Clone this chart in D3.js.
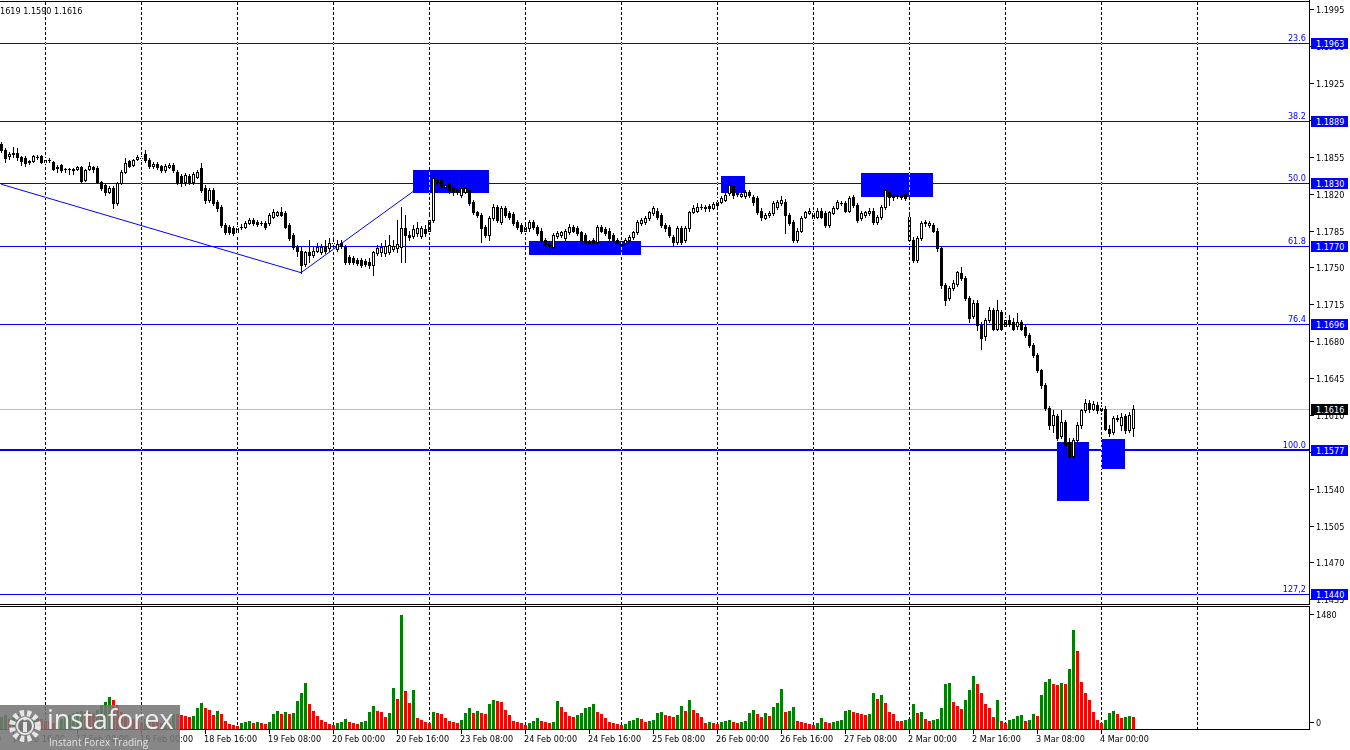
<!DOCTYPE html>
<html>
<head>
<meta charset="utf-8">
<script src="https://cdn.jsdelivr.net/npm/d3@7"></script>
<style>
  body { margin: 0; background: #fff; overflow: hidden; }
  svg text { font-family: "DejaVu Sans Condensed", "Liberation Sans", sans-serif; font-size: 9px; }
</style>
</head>
<body>
<div id="chart"></div>
<script>
// ---- EURUSD H1, 16 Feb 13:00 .. 4 Mar 08:00 ----
const opens = [
  1.1867,1.1861,1.1856,1.1858,1.1859,1.1855,1.1854,1.1850,1.1851,1.1855,1.1856,1.1850,
  1.1852,1.1850,1.1844,1.1847,1.1843,1.1843,1.1843,1.1843,1.1845,1.1833,1.1843,1.1845,
  1.1844,1.1831,1.1828,1.1822,1.1825,1.1811,1.1830,1.1841,1.1851,1.1847,1.1853,1.1854,
  1.1858,1.1852,1.1846,1.1848,1.1846,1.1842,1.1845,1.1847,1.1841,1.1837,1.1831,1.1837,
  1.1831,1.1836,1.1844,1.1825,1.1814,1.1823,1.1812,1.1807,1.1790,1.1788,1.1787,1.1784,
  1.1788,1.1788,1.1792,1.1795,1.1793,1.1792,1.1792,1.1792,1.1798,1.1800,1.1803,1.1802,
  1.1790,1.1781,1.1769,1.1766,1.1753,1.1765,1.1762,1.1766,1.1765,1.1770,1.1768,1.1773,
  1.1767,1.1773,1.1769,1.1760,1.1759,1.1757,1.1757,1.1756,1.1755,1.1752,1.1764,1.1765,
  1.1764,1.1765,1.1767,1.1768,1.1769,1.1787,1.1781,1.1780,1.1783,1.1780,1.1786,1.1785,
  1.1795,1.1833,1.1833,1.1826,1.1829,1.1825,1.1824,1.1819,1.1822,1.1823,1.1812,1.1803,
  1.1800,1.1788,1.1781,1.1797,1.1807,1.1793,1.1806,1.1802,1.1801,1.1793,1.1790,1.1785,
  1.1787,1.1793,1.1788,1.1785,1.1776,1.1773,1.1769,1.1780,1.1781,1.1778,1.1784,1.1788,
  1.1787,1.1784,1.1781,1.1773,1.1776,1.1774,1.1788,1.1786,1.1785,1.1781,1.1776,1.1771,
  1.1773,1.1776,1.1779,1.1784,1.1792,1.1793,1.1797,1.1802,1.1804,1.1800,1.1790,1.1788,
  1.1779,1.1774,1.1787,1.1776,1.1787,1.1803,1.1804,1.1807,1.1807,1.1808,1.1806,1.1809,
  1.1812,1.1814,1.1821,1.1828,1.1820,1.1818,1.1818,1.1822,1.1817,1.1816,1.1804,1.1797,
  1.1800,1.1802,1.1807,1.1811,1.1812,1.1800,1.1793,1.1776,1.1785,1.1798,1.1802,1.1802,
  1.1798,1.1804,1.1802,1.1790,1.1802,1.1806,1.1811,1.1811,1.1804,1.1817,1.1809,1.1797,
  1.1800,1.1802,1.1804,1.1793,1.1798,1.1807,1.1822,1.1819,1.1818,1.1819,1.1820,1.1798,
  1.1776,1.1757,1.1778,1.1792,1.1790,1.1790,1.1785,1.1768,1.1733,1.1721,1.1730,1.1734,
  1.1745,1.1740,1.1721,1.1704,1.1716,1.1695,1.1685,1.1700,1.1710,1.1692,1.1708,1.1694,
  1.1700,1.1698,1.1694,1.1698,1.1693,1.1686,1.1676,1.1667,1.1653,1.1638,1.1617,1.1600,
  1.1609,1.1590,1.1603,1.1584,1.1571,1.1586,1.1600,1.1615,1.1621,1.1616,1.1619,1.1615,
  1.1616,1.1597,1.1594,1.1607,1.1600,1.1609,1.1596,1.1598
];
const highs = [
  1.1869,1.1863,1.1860,1.1864,1.1863,1.1856,1.1856,1.1852,1.1857,1.1857,1.1857,1.1854,
  1.1854,1.1851,1.1847,1.1848,1.1844,1.1844,1.1844,1.1846,1.1846,1.1843,1.1850,1.1846,
  1.1846,1.1832,1.1829,1.1827,1.1827,1.1831,1.1842,1.1854,1.1852,1.1853,1.1857,1.1856,
  1.1861,1.1854,1.1850,1.1850,1.1847,1.1848,1.1849,1.1849,1.1842,1.1839,1.1840,1.1839,
  1.1841,1.1842,1.1849,1.1828,1.1825,1.1825,1.1814,1.1809,1.1792,1.1790,1.1789,1.1789,
  1.1791,1.1794,1.1797,1.1797,1.1795,1.1794,1.1794,1.1802,1.1805,1.1804,1.1807,1.1804,
  1.1792,1.1783,1.1771,1.1769,1.1766,1.1776,1.1769,1.1773,1.1772,1.1776,1.1778,1.1776,
  1.1776,1.1776,1.1771,1.1762,1.1761,1.1759,1.1759,1.1758,1.1759,1.1766,1.1771,1.1773,
  1.1776,1.1781,1.1776,1.1795,1.1807,1.1800,1.1785,1.1790,1.1793,1.1789,1.1790,1.1800,
  1.1838,1.1837,1.1835,1.1830,1.1831,1.1827,1.1826,1.1838,1.1827,1.1825,1.1814,1.1804,
  1.1802,1.1790,1.1799,1.1810,1.1809,1.1808,1.1808,1.1804,1.1803,1.1795,1.1792,1.1790,
  1.1795,1.1795,1.1790,1.1787,1.1778,1.1775,1.1783,1.1785,1.1785,1.1786,1.1791,1.1790,
  1.1789,1.1785,1.1783,1.1776,1.1778,1.1790,1.1790,1.1788,1.1787,1.1783,1.1778,1.1775,
  1.1778,1.1781,1.1785,1.1795,1.1797,1.1799,1.1804,1.1808,1.1806,1.1802,1.1792,1.1790,
  1.1781,1.1789,1.1789,1.1789,1.1804,1.1809,1.1811,1.1810,1.1809,1.1810,1.1812,1.1816,
  1.1818,1.1821,1.1831,1.1830,1.1823,1.1822,1.1823,1.1823,1.1819,1.1818,1.1806,1.1802,
  1.1804,1.1813,1.1814,1.1818,1.1815,1.1802,1.1795,1.1787,1.1799,1.1804,1.1806,1.1804,
  1.1806,1.1806,1.1804,1.1804,1.1808,1.1814,1.1813,1.1813,1.1818,1.1819,1.1811,1.1804,
  1.1804,1.1806,1.1806,1.1800,1.1809,1.1825,1.1824,1.1821,1.1820,1.1821,1.1822,1.1800,
  1.1779,1.1780,1.1794,1.1795,1.1794,1.1792,1.1787,1.1770,1.1735,1.1732,1.1738,1.1747,
  1.1750,1.1742,1.1723,1.1719,1.1719,1.1698,1.1702,1.1712,1.1711,1.1719,1.1710,1.1702,
  1.1705,1.1702,1.1707,1.1700,1.1695,1.1688,1.1678,1.1669,1.1654,1.1640,1.1618,1.1615,
  1.1611,1.1615,1.1605,1.1588,1.1588,1.1603,1.1616,1.1625,1.1624,1.1623,1.1622,1.1620,
  1.1618,1.1600,1.1609,1.1610,1.1612,1.1611,1.1613,1.1619
];
const lows = [
  1.1860,1.1850,1.1853,1.1855,1.1852,1.1847,1.1846,1.1848,1.1850,1.1853,1.1849,1.1849,
  1.1850,1.1842,1.1841,1.1841,1.1841,1.1839,1.1839,1.1842,1.1831,1.1832,1.1842,1.1841,
  1.1830,1.1823,1.1819,1.1821,1.1806,1.1809,1.1829,1.1840,1.1845,1.1846,1.1852,1.1852,
  1.1850,1.1844,1.1844,1.1843,1.1841,1.1841,1.1844,1.1841,1.1829,1.1827,1.1828,1.1829,
  1.1829,1.1835,1.1822,1.1811,1.1812,1.1809,1.1804,1.1788,1.1782,1.1782,1.1781,1.1782,
  1.1786,1.1787,1.1791,1.1790,1.1789,1.1790,1.1786,1.1790,1.1797,1.1799,1.1799,1.1787,
  1.1776,1.1767,1.1761,1.1745,1.1751,1.1755,1.1760,1.1765,1.1763,1.1764,1.1766,1.1770,
  1.1766,1.1768,1.1753,1.1753,1.1753,1.1752,1.1750,1.1751,1.1749,1.1743,1.1762,1.1761,
  1.1761,1.1763,1.1766,1.1765,1.1755,1.1755,1.1776,1.1778,1.1780,1.1778,1.1780,1.1784,
  1.1793,1.1828,1.1823,1.1824,1.1821,1.1819,1.1820,1.1817,1.1821,1.1809,1.1801,1.1798,
  1.1774,1.1779,1.1776,1.1795,1.1793,1.1791,1.1798,1.1796,1.1790,1.1786,1.1783,1.1784,
  1.1785,1.1786,1.1781,1.1773,1.1766,1.1765,1.1767,1.1778,1.1779,1.1776,1.1782,1.1784,
  1.1781,1.1772,1.1769,1.1771,1.1770,1.1772,1.1784,1.1781,1.1776,1.1774,1.1771,1.1769,
  1.1771,1.1774,1.1777,1.1782,1.1790,1.1791,1.1795,1.1800,1.1796,1.1788,1.1785,1.1779,
  1.1771,1.1772,1.1772,1.1774,1.1785,1.1802,1.1803,1.1805,1.1804,1.1804,1.1805,1.1808,
  1.1811,1.1813,1.1819,1.1816,1.1818,1.1817,1.1816,1.1817,1.1809,1.1801,1.1795,1.1796,
  1.1798,1.1800,1.1805,1.1809,1.1783,1.1790,1.1774,1.1774,1.1784,1.1797,1.1801,1.1795,
  1.1797,1.1797,1.1788,1.1788,1.1801,1.1805,1.1809,1.1803,1.1803,1.1807,1.1793,1.1795,
  1.1798,1.1800,1.1791,1.1791,1.1796,1.1805,1.1809,1.1814,1.1816,1.1815,1.1814,1.1773,
  1.1755,1.1755,1.1776,1.1789,1.1788,1.1784,1.1766,1.1730,1.1714,1.1719,1.1729,1.1732,
  1.1738,1.1719,1.1698,1.1702,1.1691,1.1673,1.1681,1.1698,1.1691,1.1691,1.1691,1.1692,
  1.1694,1.1691,1.1692,1.1691,1.1684,1.1674,1.1665,1.1651,1.1636,1.1615,1.1597,1.1594,
  1.1586,1.1588,1.1579,1.1567,1.1567,1.1584,1.1598,1.1613,1.1613,1.1615,1.1612,1.1613,
  1.1596,1.1590,1.1592,1.1604,1.1596,1.1593,1.1594,1.1590
];
const closes = [
  1.1861,1.1854,1.1858,1.1859,1.1855,1.1851,1.1849,1.1851,1.1856,1.1855,1.1850,1.1852,
  1.1852,1.1843,1.1845,1.1842,1.1843,1.1843,1.1842,1.1845,1.1832,1.1842,1.1846,1.1843,
  1.1831,1.1825,1.1822,1.1825,1.1811,1.1830,1.1841,1.1849,1.1846,1.1852,1.1855,1.1854,
  1.1852,1.1846,1.1848,1.1845,1.1842,1.1846,1.1847,1.1842,1.1831,1.1830,1.1838,1.1831,
  1.1839,1.1841,1.1823,1.1814,1.1823,1.1811,1.1806,1.1790,1.1784,1.1784,1.1783,1.1787,
  1.1788,1.1792,1.1795,1.1792,1.1791,1.1792,1.1788,1.1800,1.1803,1.1803,1.1800,1.1788,
  1.1778,1.1769,1.1766,1.1752,1.1765,1.1762,1.1766,1.1769,1.1769,1.1766,1.1773,1.1773,
  1.1772,1.1770,1.1755,1.1755,1.1755,1.1754,1.1752,1.1753,1.1752,1.1765,1.1768,1.1769,
  1.1770,1.1771,1.1770,1.1772,1.1787,1.1781,1.1779,1.1786,1.1787,1.1787,1.1783,1.1795,
  1.1835,1.1830,1.1826,1.1828,1.1823,1.1822,1.1822,1.1825,1.1825,1.1811,1.1803,1.1800,
  1.1787,1.1781,1.1797,1.1807,1.1795,1.1806,1.1800,1.1798,1.1792,1.1788,1.1785,1.1788,
  1.1793,1.1788,1.1783,1.1776,1.1771,1.1770,1.1781,1.1783,1.1784,1.1785,1.1788,1.1785,
  1.1783,1.1776,1.1773,1.1774,1.1773,1.1788,1.1785,1.1783,1.1778,1.1776,1.1773,1.1773,
  1.1776,1.1779,1.1784,1.1793,1.1795,1.1797,1.1803,1.1806,1.1798,1.1790,1.1787,1.1781,
  1.1774,1.1787,1.1774,1.1787,1.1803,1.1806,1.1807,1.1807,1.1806,1.1806,1.1810,1.1812,
  1.1816,1.1819,1.1828,1.1819,1.1821,1.1820,1.1822,1.1819,1.1812,1.1803,1.1798,1.1800,
  1.1802,1.1811,1.1812,1.1814,1.1800,1.1792,1.1776,1.1785,1.1797,1.1803,1.1804,1.1797,
  1.1804,1.1798,1.1790,1.1803,1.1806,1.1812,1.1811,1.1804,1.1816,1.1809,1.1795,1.1802,
  1.1803,1.1804,1.1793,1.1798,1.1807,1.1823,1.1817,1.1817,1.1819,1.1817,1.1816,1.1776,
  1.1757,1.1778,1.1792,1.1793,1.1792,1.1785,1.1768,1.1733,1.1719,1.1730,1.1735,1.1746,
  1.1740,1.1721,1.1702,1.1716,1.1695,1.1683,1.1700,1.1710,1.1692,1.1710,1.1692,1.1700,
  1.1696,1.1692,1.1698,1.1692,1.1686,1.1676,1.1667,1.1653,1.1638,1.1617,1.1600,1.1610,
  1.1588,1.1603,1.1581,1.1571,1.1586,1.1600,1.1615,1.1621,1.1616,1.1620,1.1615,1.1617,
  1.1597,1.1593,1.1607,1.1606,1.1608,1.1596,1.1610,1.1616
];
const volumes = [
  156,182,130,156,195,143,156,130,169,156,130,104,
  104,78,104,130,156,182,208,221,
  234,221,221,208,247,312,
  351,416,377,312,221,182,156,130,104,78,
  130,117,104,91,78,104,91,195,
  195,182,169,156,169,273,338,273,247,182,234,195,104,65,52,39,
  78,91,104,78,91,78,65,91,195,234,195,221,195,208,364,468,598,325,234,169,117,91,65,52,
  78,91,130,91,78,65,91,104,221,299,234,221,156,208,533,390,1478,494,338,507,143,117,91,78,221,208,195,143,104,
  91,78,117,208,273,208,234,208,195,325,377,364,351,247,182,104,91,78,52,
  78,104,143,104,91,78,91,364,286,221,169,156,182,208,273,286,325,221,195,143,91,78,65,52,
  65,104,117,143,130,91,104,117,208,221,182,169,156,182,299,234,377,247,208,156,78,91,78,65,
  91,104,117,91,78,91,104,208,247,195,156,208,169,286,338,520,221,234,286,104,91,78,65,52,
  78,143,91,78,91,104,117,234,247,221,208,195,182,195,468,390,442,338,221,195,104,
  104,117,130,325,208,221,130,104,117,130,273,585,598,351,299,260,377,507,689,585,468,325,273,156,377,104,78,
  117,130,169,182,104,117,195,169,442,611,650,585,572,598,585,780,1287,1014,611,468,377,221,117,78,117,208,234,195,143,156,169,156
];

// time axis: bar index of each label
const timeTickIdx = [-13,3,19,35,51,67,83,99,115,131,147,163,179,195,211,227,243,259,275];
const timeTickLabels = ['16 Feb 00:00','16 Feb 16:00','17 Feb 08:00','18 Feb 00:00','18 Feb 16:00','19 Feb 08:00',
  '20 Feb 00:00','20 Feb 16:00','23 Feb 08:00','24 Feb 00:00','24 Feb 16:00','25 Feb 08:00','26 Feb 00:00',
  '26 Feb 16:00','27 Feb 08:00','2 Mar 00:00','2 Mar 16:00','3 Mar 08:00','4 Mar 00:00'];
const dayStartIdx = [11,35,59,83,107,131,155,179,203,227,251,275,299];

const priceTicks = [1.1995,1.1960,1.1925,1.1890,1.1855,1.1820,1.1785,1.1750,1.1715,1.1680,1.1645,
  1.1610,1.1575,1.1540,1.1505,1.1470,1.1435];

// fibonacci grid
const fibLabels = ['23.6','38.2','50.0','61.8','76.4','100.0','127,2'];
const fibPrices = [1.1963,1.1889,1.1830,1.1770,1.1696,1.1577,1.1440];

// zigzag swing line
const zigIdx = [0,75,103];
const zigPrices = [1.1829,1.1745,1.1822];

// marked zones
const boxStart = [103,132,180,215,264,275];
const boxEnd   = [122,160,186,233,272,281];
const boxTop   = [1.1842,1.1775,1.1837,1.1840,1.1584,1.1587];
const boxBot   = [1.1821,1.1762,1.1821,1.1817,1.1528,1.1559];

const lastPrice = 1.1616;
const headerText = '1619 1.1590 1.1616';
const volTickLabels = ['1480','0'];
const volTickValues = [1480,0];

// ---- layout ----
const W = 1350, H = 750;
const plotR = 1309;
const mainTop = 2, mainBot = 604, volTop = 607, volBot = 729;

const x  = d3.scaleLinear().domain([0, 299]).range([1, 1197]);
const y  = d3.scaleLinear().domain([1.1440, 1.1963]).range([594, 43]);
const yv = d3.scaleLinear().domain([0, 1480]).range([volBot, 615]);

const svg = d3.select('#chart').append('svg')
  .attr('width', W).attr('height', H)
  .style('display', 'block');

const defs = svg.append('defs');
defs.append('clipPath').attr('id', 'clipMain')
  .append('rect').attr('x', 0).attr('y', mainTop).attr('width', plotR).attr('height', mainBot - mainTop);
defs.append('clipPath').attr('id', 'clipVol')
  .append('rect').attr('x', 0).attr('y', volTop).attr('width', plotR).attr('height', volBot - volTop);

svg.append('rect').attr('width', W).attr('height', H).attr('fill', '#fff');

const main = svg.append('g').attr('clip-path', 'url(#clipMain)');
const px = v => Math.round(v);

// 1) zones
main.append('g').selectAll('rect').data(boxStart).join('rect')
  .attr('x', (d, i) => px(x(d)))
  .attr('y', (d, i) => px(y(boxTop[i])))
  .attr('width', (d, i) => px(x(boxEnd[i])) - px(x(d)))
  .attr('height', (d, i) => px(y(boxBot[i])) - px(y(boxTop[i])))
  .attr('fill', '#0000ff');

// 2) dashed day grid (inverts over the blue zones like the terminal does)
svg.append('g').style('mix-blend-mode', 'difference')
  .selectAll('line').data(dayStartIdx).join('line')
  .attr('x1', d => px(x(d)) + 0.5).attr('x2', d => px(x(d)) + 0.5)
  .attr('y1', mainTop).attr('y2', volBot)
  .attr('stroke', '#fff').attr('stroke-dasharray', '3,2');

// 3) fib levels + last price line
main.append('line')
  .attr('x1', 0).attr('x2', plotR)
  .attr('y1', px(y(lastPrice)) + 0.5).attr('y2', px(y(lastPrice)) + 0.5)
  .attr('stroke', '#c0c0c0');

main.append('g').selectAll('line').data(fibPrices).join('line')
  .attr('x1', 0).attr('x2', plotR)
  .attr('y1', (d, i) => px(y(d)) + (i === 5 ? 0 : 0.5))
  .attr('y2', (d, i) => px(y(d)) + (i === 5 ? 0 : 0.5))
  .attr('stroke', '#0000ff')
  .attr('stroke-width', (d, i) => i === 5 ? 2 : 1);

main.append('g').selectAll('text').data(fibLabels).join('text')
  .attr('x', 1306).attr('y', (d, i) => px(y(fibPrices[i])) - 2)
  .attr('text-anchor', 'end')
  .attr('fill', '#0000ff')
  .text(d => d);

// 4) zigzag
main.append('path')
  .datum(zigIdx)
  .attr('d', d3.line().x(d => x(d)).y((d, i) => y(zigPrices[i])))
  .attr('fill', 'none').attr('stroke', '#0000ff').attr('stroke-width', 1);

// 5) candles
const idx = d3.range(opens.length);
const gC = main.append('g');
gC.selectAll('line').data(idx).join('line')
  .attr('x1', i => px(x(i)) + 0.5).attr('x2', i => px(x(i)) + 0.5)
  .attr('y1', i => px(y(highs[i])))
  .attr('y2', i => px(y(lows[i])) + 1)
  .attr('stroke', '#000');

gC.selectAll('rect').data(idx).join('rect')
  .each(function (i) {
    const o = opens[i], c = closes[i];
    const top = px(y(Math.max(o, c))), bot = px(y(Math.min(o, c)));
    const cx = px(x(i));
    const r = d3.select(this);
    if (c > o && bot - top >= 2) {
      r.attr('x', cx - 0.5).attr('y', top + 0.5)
       .attr('width', 2).attr('height', bot - top)
       .attr('fill', '#fff').attr('stroke', '#000');
    } else {
      r.attr('x', cx - 1).attr('y', top)
       .attr('width', 3).attr('height', Math.max(1, bot - top + 1))
       .attr('fill', '#000');
    }
  });

// 6) volumes
svg.append('g').attr('clip-path', 'url(#clipVol)')
  .selectAll('rect').data(volumes).join('rect')
  .attr('x', (d, i) => px(x(i)) - 1)
  .attr('y', d => px(yv(d)))
  .attr('width', 3)
  .attr('height', d => volBot - px(yv(d)))
  .attr('fill', (d, i) => (i === 0 || d > volumes[i - 1]) ? '#008000' : '#ff0000');

// 7) frames
const frame = svg.append('g').attr('stroke', '#000').attr('fill', 'none');
frame.append('line').attr('x1', 0).attr('x2', plotR + 1).attr('y1', mainTop - 0.5).attr('y2', mainTop - 0.5);
frame.append('line').attr('x1', 0).attr('x2', plotR + 1).attr('y1', mainBot + 0.5).attr('y2', mainBot + 0.5);
frame.append('line').attr('x1', 0).attr('x2', plotR + 1).attr('y1', volTop - 0.5).attr('y2', volTop - 0.5);
frame.append('line').attr('x1', 0).attr('x2', plotR + 1).attr('y1', volBot + 0.5).attr('y2', volBot + 0.5);
frame.append('line').attr('x1', plotR + 0.5).attr('x2', plotR + 0.5).attr('y1', 0).attr('y2', mainBot + 1);
frame.append('line').attr('x1', plotR + 0.5).attr('x2', plotR + 0.5).attr('y1', volTop - 1).attr('y2', volBot + 1);

// 8) price axis
const pa = svg.append('g');
pa.selectAll('line').data(priceTicks).join('line')
  .attr('x1', plotR + 1).attr('x2', plotR + 5)
  .attr('y1', d => px(y(d)) + 0.5).attr('y2', d => px(y(d)) + 0.5)
  .attr('stroke', '#000');
pa.selectAll('text').data(priceTicks).join('text')
  .attr('x', 1316).attr('y', d => px(y(d)) + 3.5)
  .attr('fill', '#000')
  .text(d => d.toFixed(4));

// fib price flags
const flags = svg.append('g').selectAll('g').data(fibPrices).join('g')
  .attr('transform', d => `translate(1311,${px(y(d)) - 5})`);
flags.append('rect').attr('width', 37).attr('height', 11).attr('fill', '#0000ff');
flags.append('text').attr('x', 5).attr('y', 8.5).attr('fill', '#fff').text(d => d.toFixed(4));

// last price flag
const lp = svg.append('g').attr('transform', `translate(1311,${px(y(lastPrice)) - 5})`);
lp.append('rect').attr('width', 37).attr('height', 11).attr('fill', '#000');
lp.append('text').attr('x', 5).attr('y', 8.5).attr('fill', '#fff').text(lastPrice.toFixed(4));

// volume axis
const va = svg.append('g');
va.selectAll('line').data(volTickValues).join('line')
  .attr('x1', plotR + 1).attr('x2', plotR + 5)
  .attr('y1', (d, i) => i === 0 ? 614.5 : 722.5).attr('y2', (d, i) => i === 0 ? 614.5 : 722.5)
  .attr('stroke', '#000');
va.selectAll('text').data(volTickLabels).join('text')
  .attr('x', 1316).attr('y', (d, i) => i === 0 ? 617.5 : 725.5)
  .text(d => d);

// 9) time axis
const ta = svg.append('g');
ta.selectAll('line').data(timeTickIdx).join('line')
  .attr('x1', d => px(x(d)) + 0.5).attr('x2', d => px(x(d)) + 0.5)
  .attr('y1', volBot + 1).attr('y2', volBot + 5)
  .attr('stroke', '#000');
ta.selectAll('text').data(timeTickLabels).join('text')
  .attr('x', (d, i) => px(x(timeTickIdx[i])) - 1)
  .attr('y', 741.5)
  .text(d => d);

// header
svg.append('text').attr('x', 0).attr('y', 14).attr('fill', '#000').text(headerText);

// 10) watermark
const wm = svg.append('g');
wm.append('rect').attr('x', 0).attr('y', 705).attr('width', 180).attr('height', 45)
  .attr('fill', '#767676').attr('opacity', 0.88);
wm.append('circle').attr('cx', 25).attr('cy', 726).attr('r', 13)
  .attr('fill', 'none').attr('stroke', '#e6e6e6').attr('stroke-width', 6)
  .attr('stroke-dasharray', '4,3');
wm.append('circle').attr('cx', 25).attr('cy', 726).attr('r', 8)
  .attr('fill', '#767676').attr('stroke', '#e6e6e6').attr('stroke-width', 2);
wm.append('rect').attr('x', 23).attr('y', 722).attr('width', 4).attr('height', 10).attr('fill', '#e6e6e6');
wm.append('circle').attr('cx', 25).attr('cy', 718.5).attr('r', 2).attr('fill', '#e6e6e6');
wm.append('text').attr('x', 47).attr('y', 729)
  .style('font-family', '"Open Sans", "DejaVu Sans", sans-serif')
  .style('font-size', '27px').attr('fill', '#ececec')
  .text('instaforex');
wm.append('text').attr('x', 49).attr('y', 746)
  .style('font-family', '"Open Sans", "DejaVu Sans", sans-serif')
  .style('font-size', '10px').attr('fill', '#e0e0e0')
  .text('Instant Forex Trading');
</script>
</body>
</html>
